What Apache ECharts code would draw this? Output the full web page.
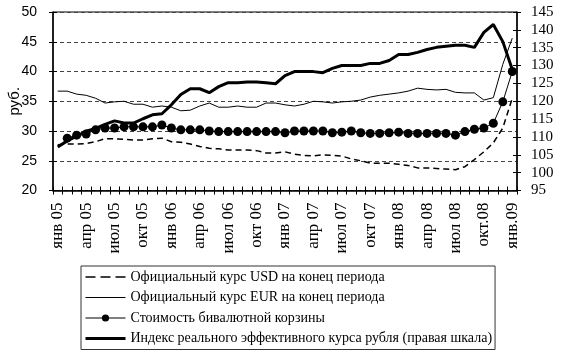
<!DOCTYPE html>
<html>
<head>
<meta charset="utf-8">
<script src="https://cdn.jsdelivr.net/npm/echarts@6/dist/echarts.min.js"></script>
<style>html,body{margin:0;padding:0;background:#fff}#c{width:569px;height:356px}</style>
</head>
<body>
<div id="c"></div>
<script>
var months = ['янв 05','фев 05','мар 05','апр 05','май 05','июн 05','июл 05','авг 05','сен 05','окт 05','ноя 05','дек 05',
'янв 06','фев 06','мар 06','апр 06','май 06','июн 06','июл 06','авг 06','сен 06','окт 06','ноя 06','дек 06',
'янв 07','фев 07','мар 07','апр 07','май 07','июн 07','июл 07','авг 07','сен 07','окт 07','ноя 07','дек 07',
'янв 08','фев 08','мар 08','апр 08','май 08','июн 08','июл 08','авг 08','сен 08','окт.08','ноя 08','дек 08',
'янв.09'];
var usd = [27.7,27.8,27.8,27.9,28.2,28.7,28.7,28.6,28.5,28.5,28.7,28.8,
28.2,28.1,27.8,27.4,27.1,27.0,26.8,26.8,26.8,26.7,26.3,26.3,
26.5,26.1,25.9,25.8,26.0,25.9,25.8,25.3,25.0,24.6,24.6,24.6,
24.4,24.2,23.8,23.8,23.7,23.6,23.5,24.0,25.2,26.5,28.0,30.5,
35.5];
var eur = [36.7,36.7,36.2,36.0,35.5,34.7,34.9,35.0,34.5,34.5,34.0,34.2,
34.0,33.4,33.5,34.2,34.7,34.0,34.0,34.2,34.0,34.0,34.7,34.7,
34.4,34.2,34.5,35.0,34.9,34.7,34.9,35.0,35.2,35.7,36.0,36.2,
36.4,36.7,37.2,37.0,36.9,37.0,36.5,36.4,36.4,35.2,35.6,41.2,
45.6];
var basket = [null,28.8,29.3,29.5,30.2,30.5,30.5,30.7,30.7,30.7,30.7,31.0,
30.5,30.2,30.2,30.2,30.0,29.9,29.9,29.9,29.9,29.9,29.9,29.9,
29.7,30.0,30.0,30.0,30.0,29.7,29.8,30.0,29.7,29.6,29.6,29.7,
29.8,29.6,29.6,29.6,29.6,29.6,29.3,29.9,30.3,30.5,31.3,34.9,
40.0];
var reer = [107.2,108.9,110.2,111.6,112.4,113.5,114.5,113.9,113.9,115.1,116.2,116.5,
119.0,121.9,123.5,123.5,122.4,124.1,125.2,125.2,125.4,125.4,125.2,124.9,
127.2,128.3,128.3,128.3,128.0,129.2,130.0,130.0,130.0,130.6,130.6,131.4,
133.1,133.1,133.7,134.5,135.1,135.4,135.7,135.7,135.1,139.3,141.5,136.7,
128.9];
var names = ['Официальный курс USD на конец периода','Официальный курс EUR на конец периода',
'Стоимость бивалютной корзины','Индекс реального эффективного курса рубля (правая шкала)'];

var chart = echarts.init(document.getElementById('c'), null, {renderer:'canvas'});
var serif = 'Liberation Serif';
var sans = 'Liberation Sans';
var hide = {opacity:0};
chart.setOption({
  animation:false,
  backgroundColor:'#fff',
  grid:{left:53,right:52,top:12,bottom:165.5,containLabel:false,outerBoundsMode:'none',
    show:true,borderColor:'#000',borderWidth:1,backgroundColor:'transparent'},
  legend:{
    orient:'vertical',left:81,top:266,
    borderColor:'#333',borderWidth:1,padding:[4,3,4,3],
    itemWidth:40,itemHeight:9,itemGap:6.5,
    textStyle:{fontFamily:serif,fontSize:14,lineHeight:14,color:'#000'},
    data:[
      {name:names[0],itemStyle:hide,lineStyle:{width:1.5,type:[10,5]}},
      {name:names[1],itemStyle:hide,lineStyle:{width:1.2}},
      {name:names[2],lineStyle:{width:1.2}},
      {name:names[3],itemStyle:hide,lineStyle:{width:3}}
    ]
  },
  xAxis:[{
    type:'category',data:months,boundaryGap:true,position:'bottom',
    axisLine:{lineStyle:{color:'#000',width:1.5}},
    axisTick:{show:true,interval:0,length:4,lineStyle:{color:'#000'}},
    axisLabel:{interval:2,rotate:90,margin:12,fontFamily:serif,fontSize:17,color:'#000'},
    splitLine:{show:false}
  },{
    type:'category',data:months,boundaryGap:true,position:'bottom',
    axisLine:{show:false},
    axisTick:{show:true,inside:true,interval:0,length:4,lineStyle:{color:'#000'}},
    axisLabel:{show:false},splitLine:{show:false}
  }],
  yAxis:[{
    type:'value',min:20,max:50,interval:5,position:'left',
    name:'руб.',nameLocation:'middle',nameRotate:90,nameGap:31,nameMoveOverlap:false,
    nameTextStyle:{fontFamily:sans,fontSize:15,color:'#000'},
    axisLine:{show:true,lineStyle:{color:'#000',width:1.5}},
    axisTick:{show:true,length:4,lineStyle:{color:'#000'}},
    axisLabel:{margin:16,fontFamily:sans,fontSize:14,color:'#000'},
    splitLine:{show:true,lineStyle:{color:'#444',width:1.2,type:[4,3]}}
  },{
    type:'value',min:95,max:145,interval:5,position:'right',
    axisLine:{show:true,lineStyle:{color:'#000',width:1.5}},
    axisTick:{show:true,length:4,lineStyle:{color:'#000'}},
    axisLabel:{margin:14,fontFamily:serif,fontSize:15,color:'#000'},
    splitLine:{show:false}
  },{
    type:'value',min:20,max:50,interval:5,position:'left',
    axisLine:{show:false},axisTick:{show:true,inside:true,length:4,lineStyle:{color:'#000'}},
    axisLabel:{show:false},splitLine:{show:false}
  },{
    type:'value',min:95,max:145,interval:5,position:'right',
    axisLine:{show:false},axisTick:{show:true,inside:true,length:4,lineStyle:{color:'#000'}},
    axisLabel:{show:false},splitLine:{show:false}
  }],
  series:[{
    name:names[0],type:'line',data:usd,yAxisIndex:0,symbol:'none',
    lineStyle:{color:'#000',width:1.5,type:[6,4]},itemStyle:{color:'#000'}
  },{
    name:names[1],type:'line',data:eur,yAxisIndex:0,symbol:'none',
    lineStyle:{color:'#000',width:1},itemStyle:{color:'#000'}
  },{
    name:names[2],type:'line',data:basket,yAxisIndex:0,symbol:'circle',symbolSize:9,showSymbol:true,showAllSymbol:true,
    lineStyle:{color:'#000',width:1},itemStyle:{color:'#000'}
  },{
    name:names[3],type:'line',data:reer,yAxisIndex:1,symbol:'none',
    lineStyle:{color:'#000',width:3},itemStyle:{color:'#000'}
  }]
});
</script>
</body>
</html>
